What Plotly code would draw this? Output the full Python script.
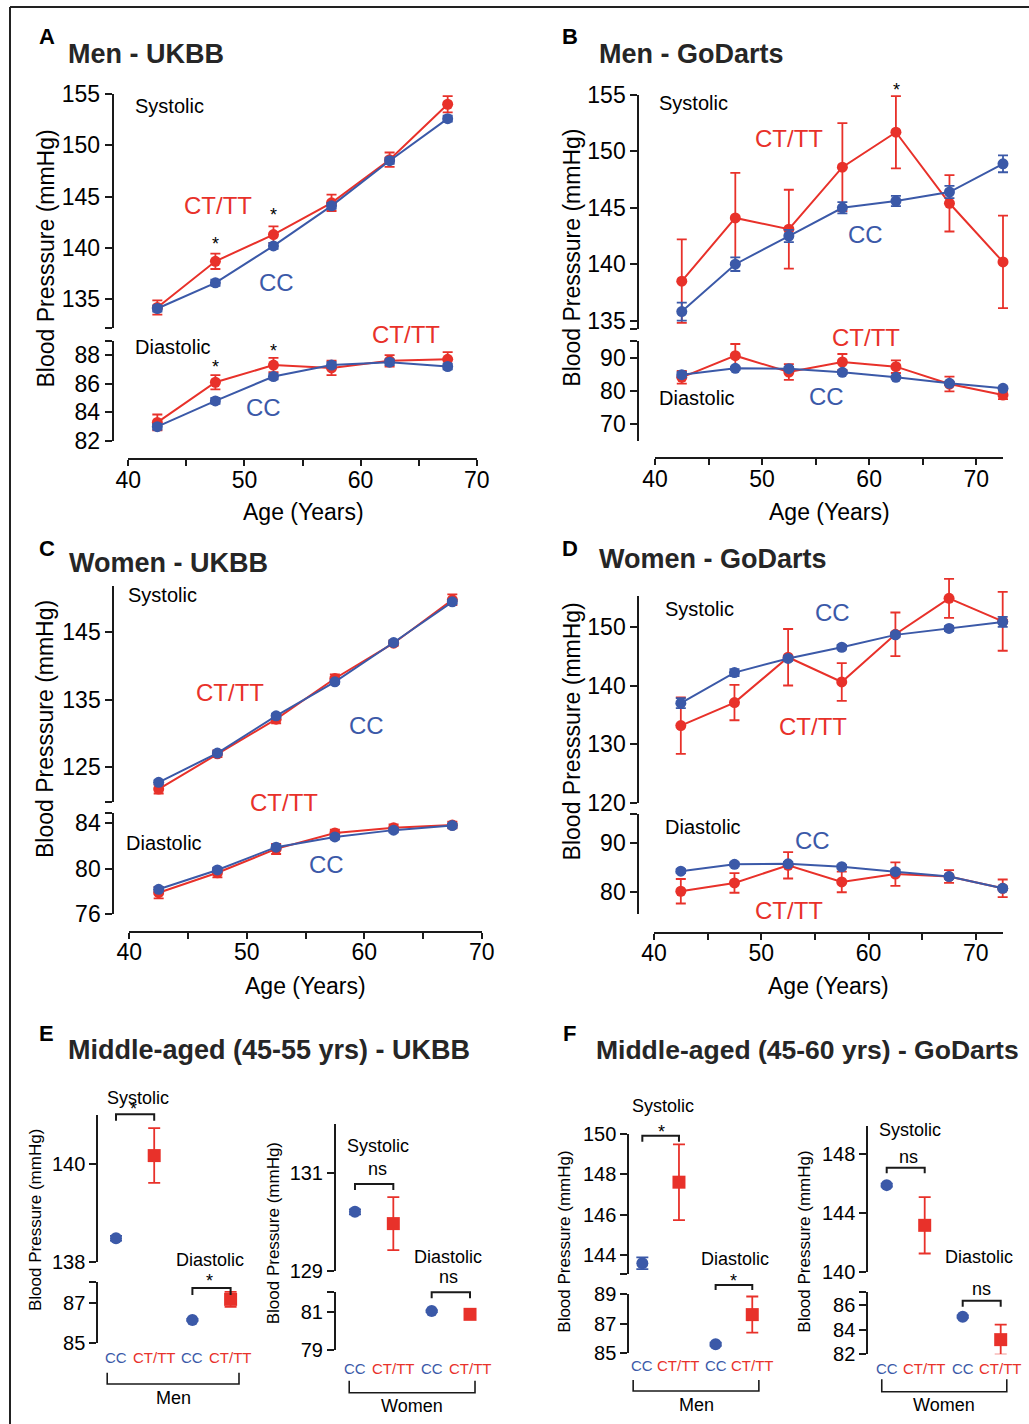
import plotly.graph_objects as go

# ---------------- data ----------------
ages_ukbb = [42.5, 47.5, 52.5, 57.5, 62.5, 67.5]
ages_godarts = [42.5, 47.5, 52.5, 57.5, 62.5, 67.5, 72.5]
age_ticks = [40, 45, 50, 55, 60, 65, 70]
age_ticktext = ["40", "", "50", "", "60", "", "70"]

# A: Men - UKBB
a_sys_cc = [134.1, 136.6, 140.2, 144.1, 148.5, 152.6]
a_sys_cc_err = [0.3, 0.3, 0.3, 0.3, 0.3, 0.3]
a_sys_ct = [134.2, 138.7, 141.3, 144.4, 148.6, 154.0]
a_sys_ct_err = [0.7, 0.75, 0.8, 0.8, 0.7, 0.8]
a_dia_cc = [83.0, 84.8, 86.5, 87.3, 87.5, 87.2]
a_dia_cc_err = [0.2, 0.2, 0.2, 0.2, 0.2, 0.2]
a_dia_ct = [83.3, 86.1, 87.3, 87.1, 87.6, 87.7]
a_dia_ct_err = [0.55, 0.5, 0.5, 0.5, 0.4, 0.5]

# B: Men - GoDarts
b_sys_cc = [135.8, 140.0, 142.5, 145.0, 145.6, 146.4, 148.9]
b_sys_cc_err = [0.8, 0.6, 0.55, 0.5, 0.45, 0.55, 0.75]
b_sys_ct = [138.5, 144.1, 143.1, 148.6, 151.7, 145.4, 140.2]
b_sys_ct_err = [3.7, 4.0, 3.5, 3.9, 3.2, 2.5, 4.1]
b_dia_cc = [84.9, 86.8, 86.7, 85.6, 84.1, 82.3, 80.8]
b_dia_cc_err = [0.8, 0.5, 0.5, 0.5, 0.4, 0.5, 0.5]
b_dia_ct = [84.1, 90.6, 85.7, 88.7, 87.3, 82.1, 78.8]
b_dia_ct_err = [1.9, 3.5, 2.35, 2.4, 1.9, 2.2, 1.25]

# C: Women - UKBB
c_sys_cc = [122.8, 127.1, 132.6, 137.6, 143.4, 149.4]
c_sys_cc_err = [0.3, 0.3, 0.3, 0.3, 0.3, 0.3]
c_sys_ct = [121.8, 127.0, 132.1, 138.1, 143.3, 149.7]
c_sys_ct_err = [0.65, 0.5, 0.6, 0.6, 0.4, 0.8]
c_dia_cc = [78.2, 79.9, 81.9, 82.8, 83.4, 83.8]
c_dia_cc_err = [0.2, 0.2, 0.2, 0.2, 0.2, 0.2]
c_dia_ct = [77.9, 79.65, 81.75, 83.15, 83.6, 83.85]
c_dia_ct_err = [0.5, 0.4, 0.45, 0.3, 0.3, 0.3]

# D: Women - GoDarts
d_sys_cc = [137.0, 142.2, 144.6, 146.5, 148.6, 149.7, 150.8]
d_sys_cc_err = [0.85, 0.6, 0.4, 0.4, 0.4, 0.4, 0.85]
d_sys_ct = [133.2, 137.1, 144.8, 140.6, 148.7, 154.8, 150.9]
d_sys_ct_err = [4.8, 3.0, 4.8, 3.2, 3.7, 3.3, 5.0]
d_dia_cc = [84.2, 85.6, 85.7, 85.1, 84.1, 83.1, 80.7]
d_dia_cc_err = [0.4, 0.4, 0.4, 0.4, 0.4, 0.4, 0.4]
d_dia_ct = [80.1, 81.8, 85.4, 82.0, 83.6, 83.1, 80.7]
d_dia_ct_err = [2.5, 2.0, 2.7, 2.1, 2.4, 1.3, 1.8]

# E / F: middle-aged, values are [CC, CT/TT]
groups = ["CC", "CT/TT", "CC", "CT/TT"]
e_men_sys = [138.48, 140.17]
e_men_sys_err = [0.05, 0.56]
e_men_dia = [86.15, 87.16]
e_men_dia_err = [0.05, 0.37]
e_women_sys = [130.2, 129.96]
e_women_sys_err = [0.05, 0.54]
e_women_dia = [81.03, 80.86]
e_women_dia_err = [0.05, 0.2]
f_men_sys = [143.59, 147.61]
f_men_sys_err = [0.29, 1.88]
f_men_dia = [85.61, 87.61]
f_men_dia_err = [0.1, 1.22]
f_women_sys = [145.9, 143.16]
f_women_sys_err = [0.1, 1.92]
f_women_dia = [85.05, 83.19]
f_women_dia_err = [0.1, 1.22]

# ---------------- styling helpers ----------------
W, H = 1029, 1424
RED = "#E8312A"
BLUE = "#3B59A8"
BLACK = "#1a1a1a"
FONT = "Arial, 'Liberation Sans', Helvetica, sans-serif"


def px(x):
    return x / W


def py(y):
    return 1 - y / H


fig = go.Figure()
layout = {}
annotations = []
shapes = []
counter = {"x": 0, "y": 0}


def _xname():
    counter["x"] += 1
    n = counter["x"]
    return ("xaxis" if n == 1 else f"xaxis{n}"), ("x" if n == 1 else f"x{n}")


def _yname():
    counter["y"] += 1
    n = counter["y"]
    return ("yaxis" if n == 1 else f"yaxis{n}"), ("y" if n == 1 else f"y{n}")


def add_xaxis(dom, rng, line_y=None, visible=True, tickvals=None, ticktext=None):
    name, ref = _xname()
    ax = dict(domain=[px(dom[0]), px(dom[1])], range=rng, showgrid=False,
              zeroline=False, fixedrange=True, anchor="free", automargin=False)
    if visible:
        ax.update(position=py(line_y), showline=True, linecolor=BLACK, linewidth=2,
                  ticks="outside", ticklen=6, tickwidth=2, tickcolor=BLACK,
                  tickvals=tickvals, ticktext=ticktext, ticklabelstandoff=-6,
                  tickfont=dict(size=23, color="black", family=FONT))
    else:
        ax.update(position=0, visible=False)
    layout[name] = ax
    return ref


def add_yaxis(dom, rng, line_x=None, tickvals=None, ticktext=None, size=23, visible=True):
    name, ref = _yname()
    ax = dict(domain=[py(dom[1]), py(dom[0])], range=rng, anchor="free",
              showgrid=False, zeroline=False, fixedrange=True, automargin=False)
    if visible:
        ax.update(position=px(line_x), showline=True, linecolor=BLACK, linewidth=2,
                  ticks="outside", ticklen=7, tickwidth=2, tickcolor=BLACK,
                  tickvals=tickvals, ticktext=ticktext,
                  tickfont=dict(size=size, color="black", family=FONT))
    else:
        ax.update(position=0, visible=False)
    layout[name] = ax
    return ref


def data_axes(xdom, xr, ydom, yr, m=30):
    """Hidden axes with the same scale as the visible ones, but a larger
    domain so that error bars reaching past the axis ends are not clipped."""
    sx = (xdom[1] - xdom[0]) / (xr[1] - xr[0])
    mx0 = min(m, xdom[0] - 1)
    mx1 = min(m, W - 1 - xdom[1])
    hx = add_xaxis((xdom[0] - mx0, xdom[1] + mx1), [xr[0] - mx0 / sx, xr[1] + mx1 / sx], visible=False)
    sy = (ydom[1] - ydom[0]) / (yr[1] - yr[0])
    hy = add_yaxis((ydom[0] - m, ydom[1] + m), [yr[0] - m / sy, yr[1] + m / sy], visible=False)
    return hx, hy


def anchor_trace(xref, yref):
    # empty trace so that the visible axis pair is drawn
    fig.add_trace(go.Scatter(x=[None], y=[None], xaxis=xref, yaxis=yref, mode="markers",
                             showlegend=False, hoverinfo="skip"))


def ann(text, x, y, size=20, color="black", xanchor="left", angle=0, xref="paper", xdata=None):
    annotations.append(dict(text=text, x=(xdata if xdata is not None else px(x)), y=py(y),
                            xref=xref, yref="paper", xanchor=xanchor, yanchor="middle",
                            showarrow=False, textangle=angle,
                            font=dict(size=size, color=color, family=FONT)))


def line_pair(xref, yref, ages, cc, cc_err, ct, ct_err):
    fig.add_trace(go.Scatter(x=ages, y=ct, mode="lines+markers", xaxis=xref, yaxis=yref,
                             line=dict(color=RED, width=2), marker=dict(color=RED, size=11),
                             error_y=dict(type="data", array=ct_err, color=RED, thickness=1.8, width=5),
                             cliponaxis=False, showlegend=False, name="CT/TT"))
    fig.add_trace(go.Scatter(x=ages, y=cc, mode="lines+markers", xaxis=xref, yaxis=yref,
                             line=dict(color=BLUE, width=2), marker=dict(color=BLUE, size=11),
                             error_y=dict(type="data", array=cc_err, color=BLUE, thickness=1.8, width=5),
                             cliponaxis=False, showlegend=False, name="CC"))


def bracket_down(xref, x0, x1, ytop, ybot):
    shapes.append(dict(type="path", xref=xref, yref="paper",
                       path=f"M {x0},{py(ybot)} L {x0},{py(ytop)} L {x1},{py(ytop)} L {x1},{py(ybot)}",
                       line=dict(color=BLACK, width=2)))


def bracket_up(xref, x0, x1, ytop, ybot):
    shapes.append(dict(type="path", xref=xref, yref="paper",
                       path=f"M {x0},{py(ytop)} L {x0},{py(ybot)} L {x1},{py(ybot)} L {x1},{py(ytop)}",
                       line=dict(color=BLACK, width=1.6)))


# ---------------- panels A-D ----------------
line_panels = [
    dict(ages=ages_ukbb, xdom=(128.3, 476.7), xr=[40, 70], xline=459, yline=112.7,
         sdom=(94, 328), sr=[132.2, 155], st=[132.2, 135, 140, 145, 150, 155],
         stt=["", "135", "140", "145", "150", "155"],
         ddom=(341, 441), dr=[82, 88.98], dt=[82, 84, 86, 88, 88.98], dtt=["82", "84", "86", "88", ""],
         data=(a_sys_cc, a_sys_cc_err, a_sys_ct, a_sys_ct_err, a_dia_cc, a_dia_cc_err, a_dia_ct, a_dia_ct_err)),
    dict(ages=ages_godarts, xdom=(655, 1003), xr=[40, 72.5], xline=458, yline=638.3,
         sdom=(95, 329.3), sr=[134.23, 155], st=[134.23, 135, 140, 145, 150, 155],
         stt=["", "135", "140", "145", "150", "155"],
         ddom=(341, 441), dr=[65, 95], dt=[70, 80, 90, 95], dtt=["70", "80", "90", ""],
         data=(b_sys_cc, b_sys_cc_err, b_sys_ct, b_sys_ct_err, b_dia_cc, b_dia_cc_err, b_dia_ct, b_dia_ct_err)),
    dict(ages=ages_ukbb, xdom=(129.3, 481.7), xr=[40, 70], xline=931.7, yline=113.3,
         sdom=(586, 801.7), sr=[119.94, 151.73], st=[119.94, 125, 135, 145], stt=["", "125", "135", "145"],
         ddom=(813.3, 914.3), dr=[76, 84.88], dt=[76, 80, 84, 84.88], dtt=["76", "80", "84", ""],
         data=(c_sys_cc, c_sys_cc_err, c_sys_ct, c_sys_ct_err, c_dia_cc, c_dia_cc_err, c_dia_ct, c_dia_ct_err)),
    dict(ages=ages_godarts, xdom=(654, 1002.7), xr=[40, 72.5], xline=932.7, yline=638.3,
         sdom=(596, 803.3), sr=[120, 155.2], st=[120, 130, 140, 150], stt=["120", "130", "140", "150"],
         ddom=(814.3, 914.3), dr=[75.4, 95.8], dt=[80, 90, 95.8], dtt=["80", "90", ""],
         data=(d_sys_cc, d_sys_cc_err, d_sys_ct, d_sys_ct_err, d_dia_cc, d_dia_cc_err, d_dia_ct, d_dia_ct_err)),
]

for p in line_panels:
    vx = add_xaxis(p["xdom"], p["xr"], p["xline"], True, age_ticks, age_ticktext)
    vys = add_yaxis(p["sdom"], p["sr"], p["yline"], p["st"], p["stt"])
    vyd = add_yaxis(p["ddom"], p["dr"], p["yline"], p["dt"], p["dtt"])
    anchor_trace(vx, vys)
    anchor_trace(vx, vyd)
    s_cc, s_cce, s_ct, s_cte, d_cc, d_cce, d_ct, d_cte = p["data"]
    hx, hys = data_axes(p["xdom"], p["xr"], p["sdom"], p["sr"])
    line_pair(hx, hys, p["ages"], s_cc, s_cce, s_ct, s_cte)
    hx2, hyd = data_axes(p["xdom"], p["xr"], p["ddom"], p["dr"])
    line_pair(hx2, hyd, p["ages"], d_cc, d_cce, d_ct, d_cte)

# Panel A text
ann("<b>A</b>", 46.5, 37, size=22, xanchor="center")
ann("<b>Men - UKBB</b>", 66, 54, size=27, color="#262626")
ann("Systolic", 133, 106)
ann("CT/TT", 182, 205, size=24, color=RED)
ann("*", 215, 244, size=18, xanchor="center")
ann("*", 273.5, 215, size=18, xanchor="center")
ann("CC", 257, 282, size=24, color=BLUE)
ann("Diastolic", 133, 347)
ann("*", 215, 367, size=18, xanchor="center")
ann("*", 273.5, 351, size=18, xanchor="center")
ann("CT/TT", 370, 335, size=24, color=RED)
ann("CC", 244, 408, size=24, color=BLUE)
ann("Blood Presssure (mmHg)", 45, 258.5, size=23, xanchor="center", angle=-90)
ann("Age (Years)", 303, 512, size=23, xanchor="center")

# Panel B text
ann("<b>B</b>", 570, 37, size=22, xanchor="center")
ann("<b>Men - GoDarts</b>", 597, 54, size=27, color="#262626")
ann("Systolic", 657, 103)
ann("CT/TT", 753, 138, size=24, color=RED)
ann("*", 896, 90, size=18, xanchor="center")
ann("CC", 846, 235, size=24, color=BLUE)
ann("CT/TT", 830, 337, size=24, color=RED)
ann("Diastolic", 657, 398)
ann("CC", 807, 397, size=24, color=BLUE)
ann("Blood Presssure (mmHg)", 571.7, 258, size=23, xanchor="center", angle=-90)
ann("Age (Years)", 829, 512, size=23, xanchor="center")

# Panel C text
ann("<b>C</b>", 46.5, 548, size=22, xanchor="center")
ann("<b>Women - UKBB</b>", 67, 563, size=27, color="#262626")
ann("Systolic", 126, 595)
ann("CT/TT", 194, 692, size=24, color=RED)
ann("CC", 347, 725, size=24, color=BLUE)
ann("CT/TT", 248, 802, size=24, color=RED)
ann("Diastolic", 124, 843)
ann("CC", 307, 864, size=24, color=BLUE)
ann("Blood Presssure (mmHg)", 45, 729, size=23, xanchor="center", angle=-90)
ann("Age (Years)", 305, 986, size=23, xanchor="center")

# Panel D text
ann("<b>D</b>", 570, 548, size=22, xanchor="center")
ann("<b>Women - GoDarts</b>", 597, 559, size=27, color="#262626")
ann("Systolic", 663, 609)
ann("CC", 813, 612, size=24, color=BLUE)
ann("CT/TT", 777, 726, size=24, color=RED)
ann("Diastolic", 663, 827)
ann("CC", 793, 841, size=24, color=BLUE)
ann("CT/TT", 753, 910, size=24, color=RED)
ann("Blood Presssure (mmHg)", 571.7, 731.7, size=23, xanchor="center", angle=-90)
ann("Age (Years)", 828, 986, size=23, xanchor="center")

# ---------------- panels E-F ----------------
dot_panels = [
    dict(xdom=(96.9, 249.7), yline=97.3,
         sdom=(1115, 1261.7), sr=[138, 141.0], st=[138, 140], stt=["138", "140"],
         ddom=(1281.7, 1343.3), dr=[85, 88.03], dt=[85, 87, 88.03], dtt=["85", "87", ""],
         sys=e_men_sys, syse=e_men_sys_err, dia=e_men_dia, diae=e_men_dia_err,
         labels_y=1357, group="Men", gb=(-0.23, 3.22, 1372.7, 1384), gy=1398,
         ytitle=(35, 1220),
         sysl=(138, 1098), sysm=("*", 0.45, 1109), sysb=(1114.3, 1120.7),
         dial=(210, 1260), diam=("*", 2.45, 1281), diab=(1288, 1295)),
    dict(xdom=(335.8, 489.2), yline=335,
         sdom=(1124, 1270.7), sr=[129, 131.99], st=[129, 131], stt=["129", "131"],
         ddom=(1291.7, 1350), dr=[79, 82.04], dt=[79, 81, 82.04], dtt=["79", "81", ""],
         sys=e_women_sys, syse=e_women_sys_err, dia=e_women_dia, diae=e_women_dia_err,
         labels_y=1368, group="Women", gb=(-0.15, 3.13, 1380.7, 1392.7), gy=1406,
         ytitle=(273.3, 1233),
         sysl=(378, 1146), sysm=("ns", 0.6, 1169), sysb=(1184, 1190),
         dial=(448, 1257), diam=("ns", 2.45, 1277), diab=(1292.3, 1298.3)),
    dict(xdom=(624, 770.6), yline=628.3,
         sdom=(1134, 1274.3), sr=[143.04, 150], st=[143.04, 144, 146, 148, 150],
         stt=["", "144", "146", "148", "150"],
         ddom=(1294, 1353.3), dr=[85, 89], dt=[85, 87, 89], dtt=["85", "87", "89"],
         sys=f_men_sys, syse=f_men_sys_err, dia=f_men_dia, diae=f_men_dia_err,
         labels_y=1365, group="Men", gb=(-0.25, 3.18, 1380, 1391), gy=1405,
         ytitle=(565, 1241.7),
         sysl=(662.5, 1106), sysm=("*", 0.53, 1132), sysb=(1135.7, 1141.7),
         dial=(735, 1259), diam=("*", 2.5, 1281), diab=(1285, 1290)),
    dict(xdom=(867.7, 1019.7), yline=867.3,
         sdom=(1126, 1271.7), sr=[140, 149.93], st=[140, 144, 148], stt=["140", "144", "148"],
         ddom=(1291.7, 1354.3), dr=[82, 87.08], dt=[82, 84, 86, 87.08], dtt=["82", "84", "86", ""],
         sys=f_women_sys, syse=f_women_sys_err, dia=f_women_dia, diae=f_women_dia_err,
         labels_y=1368, group="Women", gb=(-0.13, 3.16, 1379.3, 1391.7), gy=1405,
         ytitle=(805, 1241.7),
         sysl=(910, 1130), sysm=("ns", 0.58, 1157), sysb=(1167.7, 1173.3),
         dial=(979, 1257), diam=("ns", 2.5, 1289), diab=(1300.7, 1306.7)),
]

positions = [0, 1, 2, 3]
for p in dot_panels:
    xr_ = add_xaxis(p["xdom"], [-0.5, 3.5], visible=False)
    ys = add_yaxis(p["sdom"], p["sr"], p["yline"], p["st"], p["stt"], size=20)
    yd = add_yaxis(p["ddom"], p["dr"], p["yline"], p["dt"], p["dtt"], size=20)
    for yref, vals, errs, xs in ((ys, p["sys"], p["syse"], positions[0:2]),
                                 (yd, p["dia"], p["diae"], positions[2:4])):
        fig.add_trace(go.Scatter(x=[xs[0]], y=[vals[0]], mode="markers", xaxis=xr_, yaxis=yref,
                                 marker=dict(color=BLUE, size=12, symbol="circle"),
                                 error_y=dict(type="data", array=[errs[0]], color=BLUE, thickness=1.8, width=6),
                                 cliponaxis=False, showlegend=False, name="CC"))
        fig.add_trace(go.Scatter(x=[xs[1]], y=[vals[1]], mode="markers", xaxis=xr_, yaxis=yref,
                                 marker=dict(color=RED, size=13, symbol="square"),
                                 error_y=dict(type="data", array=[errs[1]], color=RED, thickness=1.8, width=6),
                                 cliponaxis=False, showlegend=False, name="CT/TT"))
    # category labels
    for i, g in enumerate(groups):
        ann(g, 0, p["labels_y"], size=15, color=(BLUE if g == "CC" else RED),
            xanchor="center", xref=xr_, xdata=i)
    # group bracket + label
    g0, g1, gt, gbot = p["gb"]
    bracket_up(xr_, g0, g1, gt, gbot)
    ann(p["group"], 0, p["gy"], size=18, xanchor="center", xref=xr_, xdata=(g0 + g1) / 2)
    # significance
    ann("Systolic", p["sysl"][0], p["sysl"][1], size=18, xanchor="center")
    ann(p["sysm"][0], 0, p["sysm"][2], size=18, xanchor="center", xref=xr_, xdata=p["sysm"][1])
    bracket_down(xr_, 0, 1, p["sysb"][0], p["sysb"][1])
    ann("Diastolic", p["dial"][0], p["dial"][1], size=18, xanchor="center")
    ann(p["diam"][0], 0, p["diam"][2], size=18, xanchor="center", xref=xr_, xdata=p["diam"][1])
    bracket_down(xr_, 2, 3, p["diab"][0], p["diab"][1])
    ann("Blood Pressure (mmHg)", p["ytitle"][0], p["ytitle"][1], size=17, xanchor="center", angle=-90)

ann("<b>E</b>", 46.5, 1033, size=22, xanchor="center")
ann("<b>Middle-aged (45-55 yrs) - UKBB</b>", 66, 1050, size=27, color="#262626")
ann("<b>F</b>", 569, 1033, size=22, xanchor="center")
ann("<b>Middle-aged (45-60 yrs) - GoDarts</b>", 594, 1050, size=26.5, color="#262626")

# outer frame
shapes.append(dict(type="line", xref="paper", yref="paper", x0=px(10), x1=px(1029), y0=py(7), y1=py(7),
                   line=dict(color="#222222", width=2)))
shapes.append(dict(type="line", xref="paper", yref="paper", x0=px(10), x1=px(10), y0=py(7), y1=py(1424),
                   line=dict(color="#222222", width=2)))

layout.update(dict(width=W, height=H,
                   margin=dict(l=0, r=0, t=0, b=0, pad=0, autoexpand=False),
                   paper_bgcolor="white", plot_bgcolor="rgba(0,0,0,0)", showlegend=False,
                   font=dict(family=FONT, color="black"),
                   annotations=annotations, shapes=shapes))
fig.update_layout(**layout)
fig.write_html("out.html", config={"displayModeBar": False},
               post_script="document.body.style.margin='0px';document.body.style.padding='0px';")
